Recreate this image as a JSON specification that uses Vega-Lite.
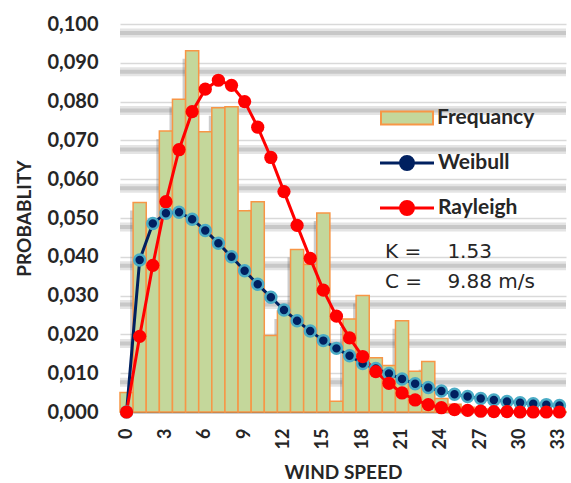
{
  "$schema": "https://vega.github.io/schema/vega-lite/v6.json",
  "width": 446,
  "height": 388,
  "autosize": {"type": "none"},
  "padding": {"left": 120, "top": 24, "right": 5, "bottom": 71},
  "background": "white",
  "config": {
    "view": {"stroke": null},
    "font": "Lato",
    "axis": {"labelOverlap": false},
    "axisX": {
      "labelFont": "Lato", "labelFontSize": 18, "labelFontWeight": "bold", "labelColor": "#262626",
      "ticks": false, "labelPadding": 16, "labelAngle": -90, "labelOverlap": false,
      "domainColor": "#595959", "domainWidth": 1.5,
      "titleFont": "Lato", "titleFontSize": 19, "titleFontWeight": "bold", "titleColor": "#262626",
      "titlePadding": 15, "grid": false
    },
    "axisY": {
      "labelFont": "Lato", "labelFontSize": 20, "labelFontWeight": "bold", "labelColor": "#262626",
      "ticks": false, "domain": false, "labelPadding": 22, "labelOverlap": false,
      "grid": true, "gridColor": "#d9d9d9", "gridWidth": 1.5,
      "titleFont": "Lato", "titleFontSize": 19, "titleFontWeight": "bold", "titleColor": "#262626",
      "titlePadding": 12
    }
  },
  "datasets": {
    "main": [
      {"ws": 0, "Frequancy": 0.005, "Weibull": 0.0, "Rayleigh": 0.0},
      {"ws": 1, "Frequancy": 0.054, "Weibull": 0.0392, "Rayleigh": 0.0195},
      {"ws": 2, "Frequancy": 0.049, "Weibull": 0.0486, "Rayleigh": 0.0378},
      {"ws": 3, "Frequancy": 0.0724, "Weibull": 0.0512, "Rayleigh": 0.0542},
      {"ws": 4, "Frequancy": 0.0806, "Weibull": 0.0515, "Rayleigh": 0.0676},
      {"ws": 5, "Frequancy": 0.0931, "Weibull": 0.0497, "Rayleigh": 0.0774},
      {"ws": 6, "Frequancy": 0.0722, "Weibull": 0.0468, "Rayleigh": 0.0832},
      {"ws": 7, "Frequancy": 0.0784, "Weibull": 0.0435, "Rayleigh": 0.0855},
      {"ws": 8, "Frequancy": 0.0787, "Weibull": 0.04, "Rayleigh": 0.0842},
      {"ws": 9, "Frequancy": 0.0519, "Weibull": 0.0364, "Rayleigh": 0.08},
      {"ws": 10, "Frequancy": 0.0542, "Weibull": 0.0329, "Rayleigh": 0.0734},
      {"ws": 11, "Frequancy": 0.0197, "Weibull": 0.0296, "Rayleigh": 0.0656},
      {"ws": 12, "Frequancy": 0.026, "Weibull": 0.0263, "Rayleigh": 0.0568},
      {"ws": 13, "Frequancy": 0.0419, "Weibull": 0.0235, "Rayleigh": 0.0481},
      {"ws": 14, "Frequancy": 0.038, "Weibull": 0.0209, "Rayleigh": 0.0396},
      {"ws": 15, "Frequancy": 0.0513, "Weibull": 0.0184, "Rayleigh": 0.0314},
      {"ws": 16, "Frequancy": 0.0028, "Weibull": 0.0164, "Rayleigh": 0.0247},
      {"ws": 17, "Frequancy": 0.024, "Weibull": 0.0145, "Rayleigh": 0.0191},
      {"ws": 18, "Frequancy": 0.03, "Weibull": 0.0125, "Rayleigh": 0.0143},
      {"ws": 19, "Frequancy": 0.014, "Weibull": 0.0112, "Rayleigh": 0.0104},
      {"ws": 20, "Frequancy": 0.012, "Weibull": 0.0099, "Rayleigh": 0.0074},
      {"ws": 21, "Frequancy": 0.0235, "Weibull": 0.0085, "Rayleigh": 0.0049},
      {"ws": 22, "Frequancy": 0.0105, "Weibull": 0.0073, "Rayleigh": 0.0031},
      {"ws": 23, "Frequancy": 0.013, "Weibull": 0.0063, "Rayleigh": 0.0019},
      {"ws": 24, "Frequancy": 0.0035, "Weibull": 0.0054, "Rayleigh": 0.0011},
      {"ws": 25, "Frequancy": 0.002, "Weibull": 0.0046, "Rayleigh": 0.0006},
      {"ws": 26, "Frequancy": 0.0012, "Weibull": 0.004, "Rayleigh": 0.0004},
      {"ws": 27, "Frequancy": 0.0008, "Weibull": 0.0035, "Rayleigh": 0.0002},
      {"ws": 28, "Frequancy": 0.0005, "Weibull": 0.0031, "Rayleigh": 0.0001},
      {"ws": 29, "Frequancy": 0.0004, "Weibull": 0.0027, "Rayleigh": 0.0001},
      {"ws": 30, "Frequancy": 0.0003, "Weibull": 0.0024, "Rayleigh": 0.0},
      {"ws": 31, "Frequancy": 0.0002, "Weibull": 0.0021, "Rayleigh": 0.0},
      {"ws": 32, "Frequancy": 0.0001, "Weibull": 0.0019, "Rayleigh": 0.0},
      {"ws": 33, "Frequancy": 0.0001, "Weibull": 0.0017, "Rayleigh": 0.0}
    ],
    "grid": [
      {"v": 0.01}, {"v": 0.02}, {"v": 0.03}, {"v": 0.04}, {"v": 0.05},
      {"v": 0.06}, {"v": 0.07}, {"v": 0.08}, {"v": 0.09}, {"v": 0.1}
    ]
  },
  "layer": [
    {
      "data": {"name": "grid"},
      "mark": {"type": "rule", "yOffset": 9, "strokeWidth": 9, "color": "#e4e4e4"},
      "encoding": {"y": {"field": "v", "type": "quantitative", "title": "PROBABLITY", "scale": {"domain": [0, 0.1], "nice": false},
        "axis": {"tickCount": 10, "labelOverlap": false, "labelExpr": "replace(format(datum.value, '.3f'), '.', ',')"}}}
    },
    {
      "data": {"name": "grid"},
      "mark": {"type": "rule", "yOffset": 9, "strokeWidth": 4, "color": "#c8c8c8"},
      "encoding": {"y": {"field": "v", "type": "quantitative", "title": "PROBABLITY",
        "axis": {"tickCount": 10, "labelOverlap": false, "labelExpr": "replace(format(datum.value, '.3f'), '.', ',')"}}}
    },
    {
      "data": {"name": "main"},
      "transform": [{"fold": ["Frequancy"], "as": ["series", "value"]}],
      "mark": {"type": "bar", "xOffset": -3, "yOffset": 8, "color": "#595959", "opacity": 0.3, "clip": true},
      "encoding": {
        "x": {"field": "ws", "type": "ordinal", "title": "WIND SPEED", "scale": {"paddingInner": 0, "paddingOuter": 0},
          "axis": {"values": [0, 3, 6, 9, 12, 15, 18, 21, 24, 27, 30, 33]}},
        "y": {"field": "value", "type": "quantitative", "title": "PROBABLITY",
          "axis": {"tickCount": 10, "labelOverlap": false, "labelExpr": "replace(format(datum.value, '.3f'), '.', ',')"}}
      }
    },
    {
      "data": {"name": "main"},
      "transform": [{"fold": ["Frequancy"], "as": ["series", "value"]}],
      "mark": {"type": "bar", "stroke": "#f79646", "strokeWidth": 1.5},
      "encoding": {
        "x": {"field": "ws", "type": "ordinal", "title": "WIND SPEED"},
        "y": {"field": "value", "type": "quantitative", "title": "PROBABLITY",
          "axis": {"tickCount": 10, "labelOverlap": false, "labelExpr": "replace(format(datum.value, '.3f'), '.', ',')"}},
        "fill": {
          "field": "series", "type": "nominal",
          "scale": {"domain": ["Frequancy"], "range": ["#c4d79b"]},
          "legend": {
            "orient": "none", "legendX": 273, "legendY": 80, "title": null,
            "symbolType": "M-2,-0.5H2V0.5H-2Z", "symbolSize": 676,
            "symbolStrokeColor": "#f79646", "symbolStrokeWidth": 2, "symbolOpacity": 1,
            "labelFont": "Lato", "labelFontSize": 21, "labelFontWeight": "bold", "labelColor": "#262626",
            "labelOffset": 16
          }
        }
      }
    },
    {
      "data": {"name": "main"},
      "transform": [{"fold": ["Weibull", "Rayleigh"], "as": ["series", "value"]}],
      "mark": {"type": "line", "strokeWidth": 3},
      "encoding": {
        "x": {"field": "ws", "type": "ordinal", "title": "WIND SPEED"},
        "y": {"field": "value", "type": "quantitative", "title": "PROBABLITY",
          "axis": {"tickCount": 10, "labelOverlap": false, "labelExpr": "replace(format(datum.value, '.3f'), '.', ',')"}},
        "stroke": {
          "field": "series", "type": "nominal",
          "scale": {"domain": ["Weibull", "Rayleigh"], "range": ["#002060", "#ff0000"]},
          "legend": {
            "orient": "none", "legendX": 272, "legendY": 124, "title": null,
            "symbolType": "M-2,0H2M0.48,0A0.48,0.48,0,1,1,-0.48,0A0.48,0.48,0,1,1,0.48,0Z",
            "symbolSize": 729, "symbolStrokeWidth": 3, "rowPadding": 17,
            "labelFont": "Lato", "labelFontSize": 21, "labelFontWeight": "bold", "labelColor": "#262626",
            "labelOffset": 16,
            "encode": {"symbols": {"update": {"fill": {"signal": "datum.value === 'Weibull' ? '#002060' : '#ff0000'"}, "fillOpacity": {"value": 1}}}}
          }
        }
      }
    },
    {
      "data": {"name": "main"},
      "transform": [{"fold": ["Weibull"], "as": ["series", "value"]}],
      "mark": {"type": "circle", "size": 120, "fill": "#002060", "stroke": "#4bacc6", "strokeWidth": 2.5, "opacity": 1},
      "encoding": {
        "x": {"field": "ws", "type": "ordinal", "title": "WIND SPEED"},
        "y": {"field": "value", "type": "quantitative", "title": "PROBABLITY",
          "axis": {"tickCount": 10, "labelOverlap": false, "labelExpr": "replace(format(datum.value, '.3f'), '.', ',')"}}
      }
    },
    {
      "data": {"name": "main"},
      "transform": [{"fold": ["Rayleigh"], "as": ["series", "value"]}],
      "mark": {"type": "circle", "size": 175, "fill": "#ff0000", "opacity": 1},
      "encoding": {
        "x": {"field": "ws", "type": "ordinal", "title": "WIND SPEED"},
        "y": {"field": "value", "type": "quantitative", "title": "PROBABLITY",
          "axis": {"tickCount": 10, "labelOverlap": false, "labelExpr": "replace(format(datum.value, '.3f'), '.', ',')"}}
      }
    },
    {
      "data": {"values": [{}]},
      "mark": {"type": "text", "text": "K =", "align": "left", "baseline": "middle", "dx": -4, "font": "DejaVu Sans", "fontSize": 20, "color": "#262626"},
      "encoding": {"x": {"datum": 20, "type": "ordinal", "title": "WIND SPEED"}, "y": {"datum": 0.0412, "type": "quantitative", "title": "PROBABLITY",
          "axis": {"tickCount": 10, "labelOverlap": false, "labelExpr": "replace(format(datum.value, '.3f'), '.', ',')"}}}
    },
    {
      "data": {"values": [{}]},
      "mark": {"type": "text", "text": "1.53", "align": "left", "baseline": "middle", "dx": 6, "font": "DejaVu Sans", "fontSize": 20, "color": "#262626"},
      "encoding": {"x": {"datum": 24, "type": "ordinal", "title": "WIND SPEED"}, "y": {"datum": 0.0412, "type": "quantitative", "title": "PROBABLITY",
          "axis": {"tickCount": 10, "labelOverlap": false, "labelExpr": "replace(format(datum.value, '.3f'), '.', ',')"}}}
    },
    {
      "data": {"values": [{}]},
      "mark": {"type": "text", "text": "C =", "align": "left", "baseline": "middle", "dx": -4, "font": "DejaVu Sans", "fontSize": 20, "color": "#262626"},
      "encoding": {"x": {"datum": 20, "type": "ordinal", "title": "WIND SPEED"}, "y": {"datum": 0.0335, "type": "quantitative", "title": "PROBABLITY",
          "axis": {"tickCount": 10, "labelOverlap": false, "labelExpr": "replace(format(datum.value, '.3f'), '.', ',')"}}}
    },
    {
      "data": {"values": [{}]},
      "mark": {"type": "text", "text": "9.88 m/s", "align": "left", "baseline": "middle", "dx": 6, "font": "DejaVu Sans", "fontSize": 20, "color": "#262626"},
      "encoding": {"x": {"datum": 24, "type": "ordinal", "title": "WIND SPEED"}, "y": {"datum": 0.0335, "type": "quantitative", "title": "PROBABLITY",
          "axis": {"tickCount": 10, "labelOverlap": false, "labelExpr": "replace(format(datum.value, '.3f'), '.', ',')"}}}
    }
  ]
}
